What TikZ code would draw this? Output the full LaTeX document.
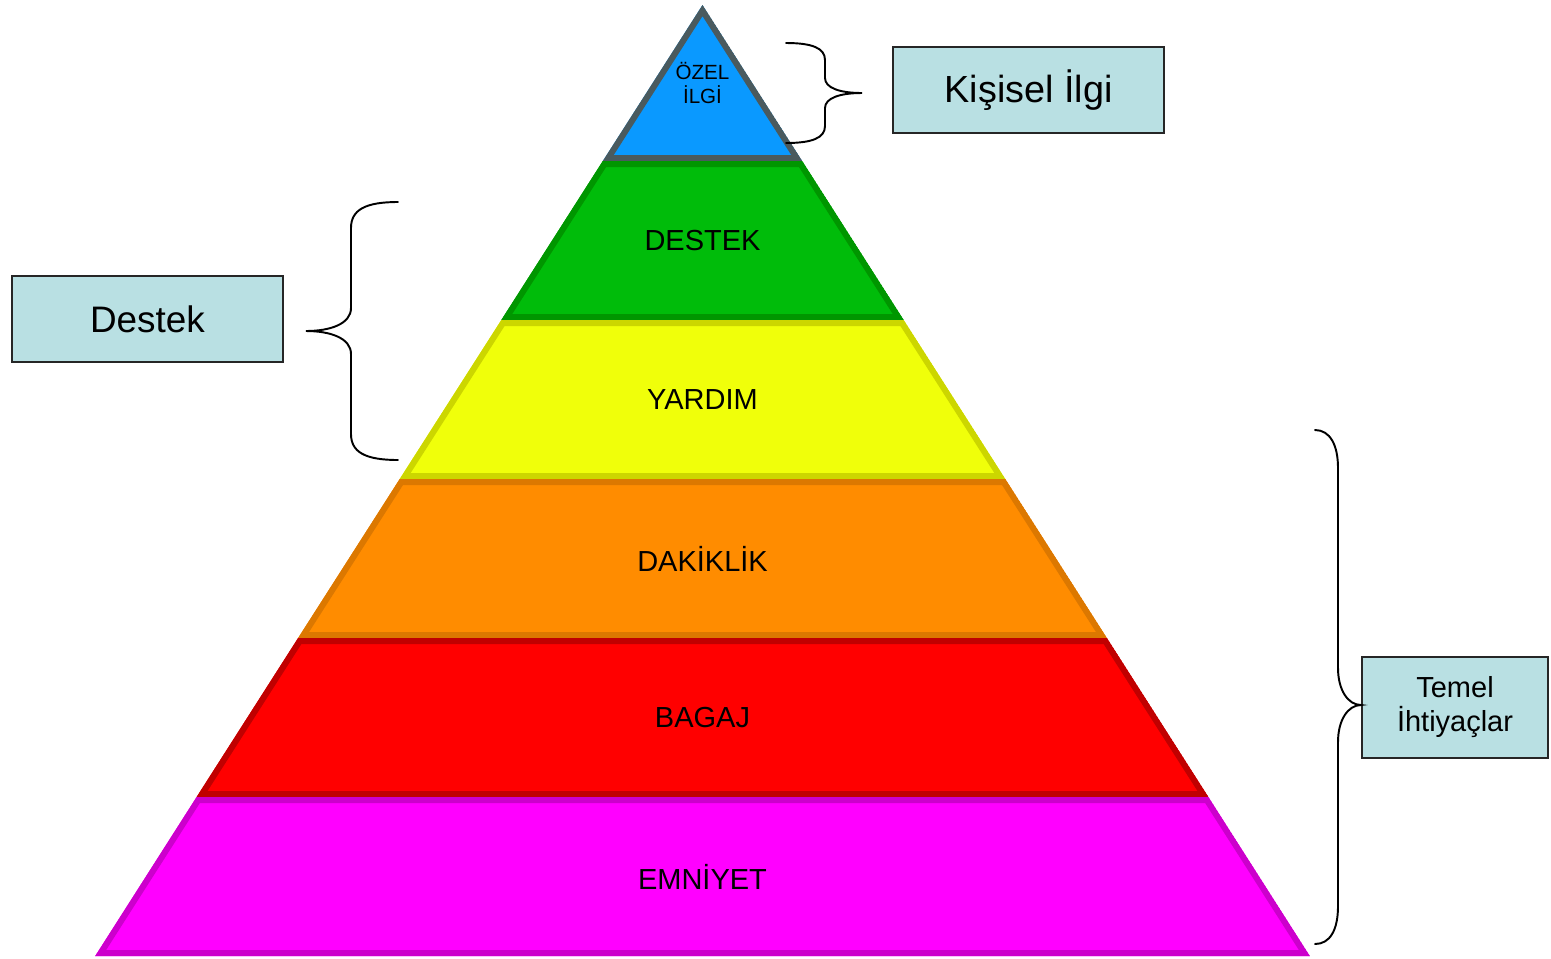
\documentclass[tikz,border=0pt]{standalone}
\usepackage{fontspec}
\setmainfont{Liberation Sans}
\definecolor{ozelfill}{HTML}{0A99FF}
\definecolor{ozelline}{HTML}{4A5A5E}
\definecolor{destekfill}{HTML}{00BC0A}
\definecolor{destekline}{HTML}{009600}
\definecolor{yardimfill}{HTML}{F0FF0A}
\definecolor{yardimline}{HTML}{CCD600}
\definecolor{dakiklikfill}{HTML}{FF8C00}
\definecolor{dakiklikline}{HTML}{DC7800}
\definecolor{bagajfill}{HTML}{FF0000}
\definecolor{bagajline}{HTML}{C00000}
\definecolor{emniyetfill}{HTML}{FF00FF}
\definecolor{emniyetline}{HTML}{CC00CC}
\definecolor{tagfill}{HTML}{B9E0E3}
\tikzset{
  tier/.style={line width=0.24cm, line join=miter},
  lbl/.style={font=\fontsize{16.5}{20}\selectfont},
  tag/.style={draw=black!85, fill=tagfill, line width=1.1pt, inner sep=0pt, align=center},
  brace/.style={line width=1.1pt, line cap=round},
}
\begin{document}
\begin{tikzpicture}[x=0.02cm, y=-0.02cm]
      \useasboundingbox (0,0) rectangle (1551,958);
%
      \coordinate (T) at (702.5,5);%% apex
      \coordinate (A1) at (602.8,161);   \coordinate (B1) at (802.2,161);%%
      \coordinate (A2) at (501.3,320);   \coordinate (B2) at (903.7,320);%%
      \coordinate (A3) at (399.7,479);   \coordinate (B3) at (1005.3,479);%%
      \coordinate (A4) at (298.1,638);   \coordinate (B4) at (1106.9,638);%%
      \coordinate (A5) at (196.6,797);   \coordinate (B5) at (1208.4,797);%%
      \coordinate (A6) at (95.2,956);    \coordinate (B6) at (1309.8,956);%%
%
      \begin{scope}
        \clip (T) -- (B1) -- (A1) -- cycle;
        \filldraw[tier, fill=ozelfill, draw=ozelline] (T) -- (B1) -- (A1) -- cycle;%
      \end{scope}
      \begin{scope}
        \clip (A1) -- (B1) -- (B2) -- (A2) -- cycle;
        \filldraw[tier, fill=destekfill, draw=destekline] (A1) -- (B1) -- (B2) -- (A2) -- cycle;%
      \end{scope}
      \begin{scope}
        \clip (A2) -- (B2) -- (B3) -- (A3) -- cycle;
        \filldraw[tier, fill=yardimfill, draw=yardimline] (A2) -- (B2) -- (B3) -- (A3) -- cycle;%
      \end{scope}
      \begin{scope}
        \clip (A3) -- (B3) -- (B4) -- (A4) -- cycle;
        \filldraw[tier, fill=dakiklikfill, draw=dakiklikline] (A3) -- (B3) -- (B4) -- (A4) -- cycle;%
      \end{scope}
      \begin{scope}
        \clip (A4) -- (B4) -- (B5) -- (A5) -- cycle;
        \filldraw[tier, fill=bagajfill, draw=bagajline] (A4) -- (B4) -- (B5) -- (A5) -- cycle;%
      \end{scope}
      \begin{scope}
        \clip (A5) -- (B5) -- (B6) -- (A6) -- cycle;
        \filldraw[tier, fill=emniyetfill, draw=emniyetline] (A5) -- (B5) -- (B6) -- (A6) -- cycle;%
      \end{scope}
%
      \node[align=center, font=\fontsize{11.7}{14}\selectfont] (ozel) at (702.5,83) {ÖZEL\\İLGİ};
      \node[lbl] (destek) at (702.5,240.5) {DESTEK};
      \node[lbl] (yardim) at (702.5,399.5) {YARDIM};
      \node[lbl] (dakiklik) at (702.5,558.5) {DAKİKLİK};
      \node[lbl] (bagaj) at (702.5,717.5) {BAGAJ};
      \node[lbl] (emniyet) at (702.5,876.5) {EMNİYET};
%
      \node[tag, minimum width=5.42cm, minimum height=1.72cm, font=\fontsize{21.5}{25}\selectfont]
        (kisisel) at (1028.5,90) {Kişisel İlgi};
      \node[tag, minimum width=5.42cm, minimum height=1.72cm, font=\fontsize{21}{25}\selectfont]
        (destekbox) at (147.5,319) {Destek};
      \node[tag, minimum width=3.72cm, minimum height=2.02cm, font=\fontsize{16.5}{19.3}\selectfont]
        (temel) at (1455,707.5) {Temel\\İhtiyaçlar};
%
      \coordinate (K) at (862,93);%% brace tips
      \coordinate (D) at (306,331);%%
      \coordinate (E) at (1361,705);%%
%
      \draw[brace] (786,43) .. controls (812,43) and (825,48) .. (825,60) -- (825,78)
        .. controls (825,88) and (840,93) .. (K) .. controls (840,93) and (825,98) .. (825,108)
        -- (825,126) .. controls (825,138) and (812,143) .. (786,143);
      \draw[brace] (398,202) .. controls (365,202) and (351,210) .. (351,228) -- (351,308)
        .. controls (351,324) and (330,331) .. (D) .. controls (330,331) and (351,338) .. (351,354)
        -- (351,434) .. controls (351,452) and (365,460) .. (398,460);
      \draw[brace] (1315,430) .. controls (1330,430) and (1338,445) .. (1338,468) -- (1338,668)
        .. controls (1338,690) and (1348,705) .. (E) .. controls (1348,705) and (1338,720) .. (1338,742)
        -- (1338,906) .. controls (1338,930) and (1330,944) .. (1315,944);
   \end{tikzpicture}
\end{document}
